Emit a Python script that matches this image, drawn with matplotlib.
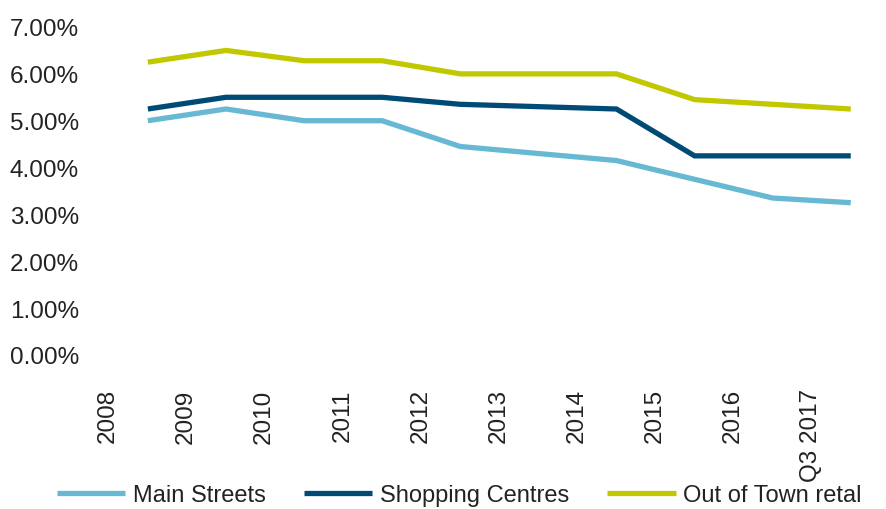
import matplotlib
matplotlib.use("Agg")
import matplotlib.pyplot as plt
import numpy as np

categories = ["2008", "2009", "2010", "2011", "2012", "2013", "2014", "2015", "2016", "Q3 2017"]
main_streets = [5.00, 5.25, 5.00, 5.00, 4.45, 4.30, 4.15, 3.75, 3.35, 3.25]
shopping_centres = [5.25, 5.50, 5.50, 5.50, 5.35, 5.30, 5.25, 4.25, 4.25, 4.25]
out_of_town = [6.25, 6.50, 6.28, 6.28, 6.00, 6.00, 6.00, 5.45, 5.35, 5.25]
series_names = ["Main Streets", "Shopping Centres", "Out of Town retal"]
colors = ["#67B8D3", "#004B76", "#C2C800"]

plt.rcParams['font.family'] = ['Liberation Sans', 'DejaVu Sans']
W, H = 886, 510
fig = plt.figure(figsize=(W / 100, H / 100), dpi=100)
ax = fig.add_axes([101 / W, (H - 356) / H, 781 / W, 328 / H])

x = np.arange(len(categories))
lines = []
for vals, name, c in zip([main_streets, shopping_centres, out_of_town], series_names, colors):
    ln, = ax.plot(x, vals, color=c, lw=3.8, label=name, solid_joinstyle='miter', solid_capstyle='butt')
    lines.append(ln)

ax.set_xlim(-0.6, 9.4)
ax.set_ylim(0, 7)
ax.set_yticks(np.arange(0, 8, 1))
ax.set_yticklabels([f"{v:.2f}%" for v in np.arange(0, 8, 1)])
ax.set_xticks(x - 0.51)
ax.set_xticklabels(categories, rotation=90, va='top', ha='center')
ax.tick_params(axis='y', length=0, pad=16, labelsize=17.5, labelcolor='#222222')
ax.tick_params(axis='x', length=0, pad=24, labelsize=17.5, labelcolor='#222222')
for s in ax.spines.values():
    s.set_visible(False)

leg = fig.legend(handles=lines, loc='center left', bbox_to_anchor=(57 / W, 14 / H),
                 ncol=3, frameon=False, fontsize=17, handlelength=2.9,
                 handletextpad=0.33, columnspacing=1.6, borderpad=0, borderaxespad=0)
for t in leg.get_texts():
    t.set_color('#222222')

fig.savefig("out.png", dpi=100)
